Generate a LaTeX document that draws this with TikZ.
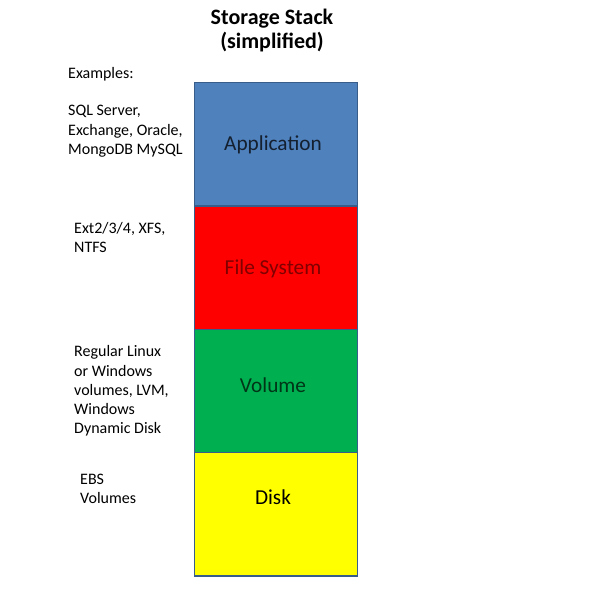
\documentclass[tikz,border=0pt]{standalone}
\usepackage{fontspec}
\setmainfont{Carlito}
\usetikzlibrary{positioning}

\definecolor{appblue}{HTML}{4F81BD}
\definecolor{fsred}{HTML}{FF0000}
\definecolor{volgreen}{HTML}{00B050}
\definecolor{diskyellow}{HTML}{FFFF00}
\definecolor{edgeblue}{HTML}{385D8A}

\tikzset{
  layer/.style={draw=edgeblue, line width=1.5pt, minimum width=163pt,
    minimum height=123.3pt, inner sep=0pt, outer sep=0pt},
  layername/.style={anchor=base, font=\fontsize{21.3}{24}\selectfont},
  example/.style={anchor=base west, inner sep=0pt, align=left,
    font=\fontsize{16}{19.3}\selectfont}
}

\begin{document}
\begin{tikzpicture}[node distance=0pt]

  \useasboundingbox (0,0) rectangle (609pt,593pt);

  \newcommand\X{273pt};

  %% title (base is the last line)
  \node[anchor=base, align=center, inner sep=0pt,
    font=\fontsize{22}{24}\selectfont\bfseries] (title) at (272pt, 544pt)
    {Storage Stack\\(simplified)};

  %% the stack
  \node[layer, fill=appblue, anchor=north] (app) at (275.8pt, 510.3pt) {};
  \node[layer, fill=fsred, below=of app] (fs) {};
  \node[layer, fill=volgreen, below=of fs] (vol) {};
  \node[layer, fill=diskyellow, below=of vol] (disk) {};

  \node[layername, text=appblue!25!black] (applabel) at (\X, 442pt) {Application};
  \node[layername, text=fsred!50!black] (fslabel) at (\X, 318pt) {File System};
  \node[layername, text=volgreen!30!black] (vollabel) at (\X, 200pt) {Volume};
  \node[layername, text=black] (disklabel) at (\X, 88pt) {Disk};

  %% examples on the left
  \node[example] (exhead) at (68pt, 514pt) {Examples:};
  \node[example] (appex) at (68pt, 438.5pt) {SQL Server,\\Exchange, Oracle,\\MongoDB MySQL};
  \node[example] (fsex) at (74pt, 340.5pt) {Ext2/3/4, XFS,\\NTFS};
  \node[example] (volex) at (74pt, 159pt)
    {Regular Linux\\or Windows\\volumes, LVM,\\Windows\\Dynamic Disk};
  \node[example] (diskex) at (80pt, 89pt) {EBS\\Volumes};

\end{tikzpicture}
\end{document}
